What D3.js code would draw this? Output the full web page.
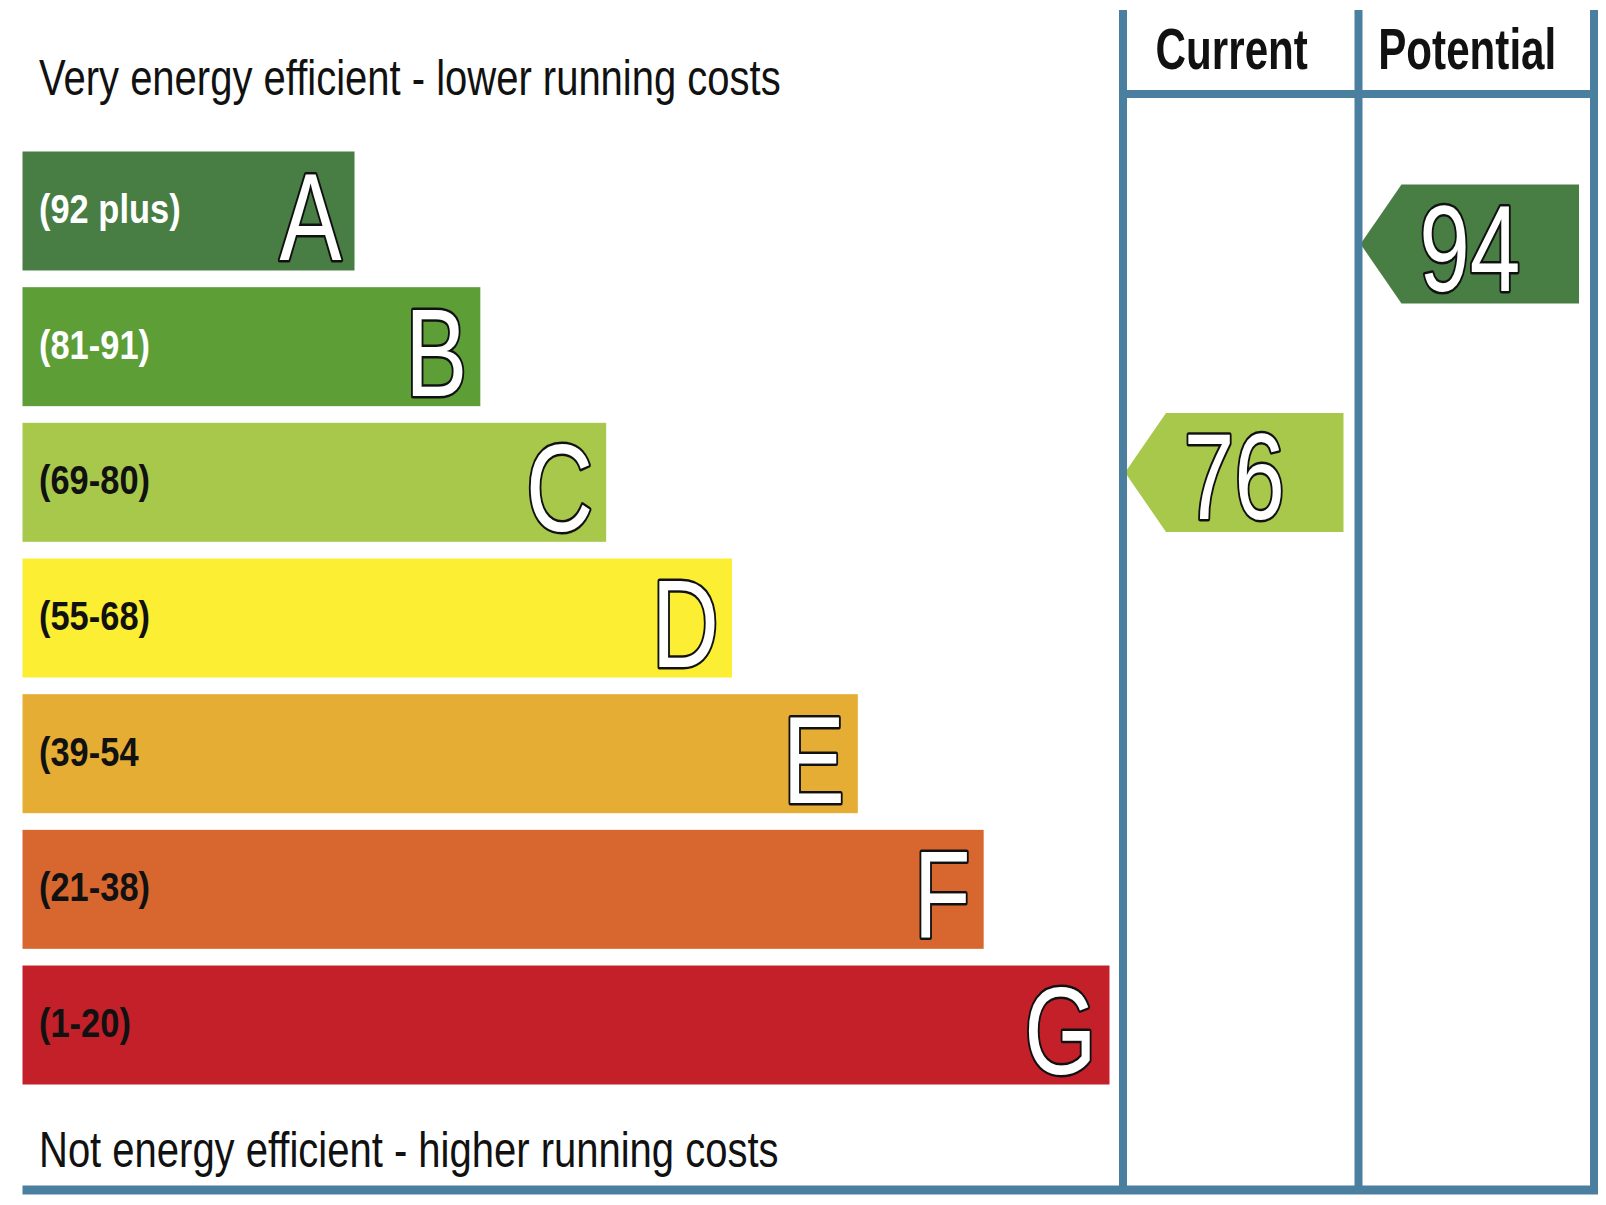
<!DOCTYPE html>
<html>
<head>
<meta charset="utf-8">
<script src="https://cdn.jsdelivr.net/npm/d3@7"></script>
<style>
  body { margin: 0; background: #fff; }
  text { font-family: "Liberation Sans", Arial, sans-serif; }
</style>
</head>
<body>
<div id="chart"></div>
<script>
// rating bands, top (best) to bottom (worst)
const ratings = ["A", "B", "C", "D", "E", "F", "G"];
const bandLabels = ["(92 plus)", "(81-91)", "(69-80)", "(55-68)", "(39-54", "(21-38)", "(1-20)"];
const bandLow = [92, 81, 69, 55, 39, 21, 1];
const bandHigh = [100, 91, 80, 68, 54, 38, 20];
const bandColors = ["#487d44", "#5d9e37", "#a8c84c", "#fbee33", "#e5ad33", "#d7672e", "#c4202a"];
const labelColors = ["#fff", "#fff", "#111", "#111", "#111", "#111", "#111"];

// the two score columns
const columns = ["Current", "Potential"];
const scores = [76, 94];

const topCaption = "Very energy efficient - lower running costs";
const bottomCaption = "Not energy efficient - higher running costs";

window.onload = function () {
  var width = 1606, height = 1205;
  var blue = "#4b7fa0";

  var svg = d3.select("#chart")
    .append("svg")
    .attr("width", width)
    .attr("height", height);

  // rows for the bands
  var y = d3.scaleBand()
    .domain(ratings)
    .range([151.5, 1084.5])
    .paddingInner(0.123);

  // each bar gets longer going down
  var barRight = d3.scaleLinear()
    .domain([0, ratings.length - 1])
    .range([354.5, 1109.5]);
  var barLeft = 22.5;

  // score columns on the right
  var col = d3.scaleBand()
    .domain(columns)
    .range([1123, 1594]);

  // text squeezed sideways (narrow font look)
  function squeeze(sel, sx) {
    sel.attr("transform", d => "translate(" + d.x + "," + d.y + ") scale(" + sx + ",1)");
  }

  // bars
  var rows = svg.append("g")
    .selectAll("g")
    .data(ratings)
    .enter().append("g");

  rows.append("rect")
    .attr("x", barLeft)
    .attr("y", d => y(d))
    .attr("width", (d, i) => barRight(i) - barLeft)
    .attr("height", y.bandwidth())
    .attr("fill", (d, i) => bandColors[i]);

  rows.append("text")
    .datum((d, i) => ({ t: bandLabels[i], c: labelColors[i], x: 39, y: y(d) + y.bandwidth() / 2 + 12 }))
    .text(d => d.t)
    .attr("font-size", 41)
    .attr("font-weight", "bold")
    .attr("fill", d => d.c)
    .call(squeeze, 0.84);

  rows.append("text")
    .datum((d, i) => ({ t: d, x: barRight(i) - 13, y: y(d) + y.bandwidth() / 2 + 49 }))
    .text(d => d.t)
    .attr("font-size", 124)
    .attr("text-anchor", "end")
    .attr("fill", "#fff")
    .attr("stroke", "#111")
    .attr("stroke-width", 5)
    .attr("stroke-linejoin", "round")
    .attr("paint-order", "stroke")
    .call(squeeze, 0.75);

  // captions
  svg.append("text")
    .datum({ x: 39, y: 95 })
    .text(topCaption)
    .attr("font-size", 50)
    .attr("fill", "#111")
    .call(squeeze, 0.8);

  svg.append("text")
    .datum({ x: 39, y: 1167 })
    .text(bottomCaption)
    .attr("font-size", 50)
    .attr("fill", "#111")
    .call(squeeze, 0.8);

  // column headers
  svg.append("g")
    .selectAll("text")
    .data(columns.map(c => ({ t: c, x: col(c) + col.bandwidth() / 2 - 9, y: 69 })))
    .enter().append("text")
    .text(d => d.t)
    .attr("font-size", 57)
    .attr("font-weight", "bold")
    .attr("text-anchor", "middle")
    .attr("fill", "#111")
    .call(squeeze, 0.74);

  // score arrows, placed inside the band by score
  var arrows = columns.map((c, i) => {
    var v = scores[i];
    var b = bandLow.findIndex((lo, j) => v >= lo && v <= bandHigh[j]);
    var t = (bandHigh[b] + 1 - v) / (bandHigh[b] + 1 - bandLow[b]);
    var h = y.bandwidth();
    var cy = y(ratings[b]) + t * h;
    var tip = col(c) + 2, right = col(c) + col.bandwidth() - 15;
    return { v: v, b: b, cy: cy, h: h, tip: tip, right: right };
  });

  var ag = svg.append("g")
    .selectAll("g")
    .data(arrows)
    .enter().append("g");

  ag.append("path")
    .attr("d", d => {
      var top = d.cy - d.h / 2, bot = d.cy + d.h / 2, base = d.tip + 41;
      return "M" + d.tip + "," + d.cy + "L" + base + "," + top + "L" + d.right + "," + top +
        "L" + d.right + "," + bot + "L" + base + "," + bot + "Z";
    })
    .attr("fill", d => bandColors[d.b]);

  ag.append("text")
    .datum(d => ({ t: d.v, x: (d.tip + d.right) / 2, y: d.cy + 47 }))
    .text(d => d.t)
    .attr("font-size", 123)
    .attr("text-anchor", "middle")
    .attr("fill", "#fff")
    .attr("stroke", "#111")
    .attr("stroke-width", 5)
    .attr("stroke-linejoin", "round")
    .attr("paint-order", "stroke")
    .call(squeeze, 0.74);

  // frame lines
  var lines = svg.append("g")
    .attr("stroke", blue)
    .attr("stroke-width", 8);

  var vx = [col(columns[0]), col(columns[1]), col(columns[1]) + col.bandwidth()];
  lines.selectAll(".v")
    .data(vx)
    .enter().append("line")
    .attr("class", "v")
    .attr("x1", d => d).attr("x2", d => d)
    .attr("y1", 10).attr("y2", 1190);

  lines.append("line")
    .attr("x1", vx[0]).attr("x2", vx[2])
    .attr("y1", 94).attr("y2", 94);

  lines.append("line")
    .attr("x1", barLeft).attr("x2", 1598)
    .attr("y1", 1190).attr("y2", 1190)
    .attr("stroke-width", 9);
};
</script>
</body>
</html>
